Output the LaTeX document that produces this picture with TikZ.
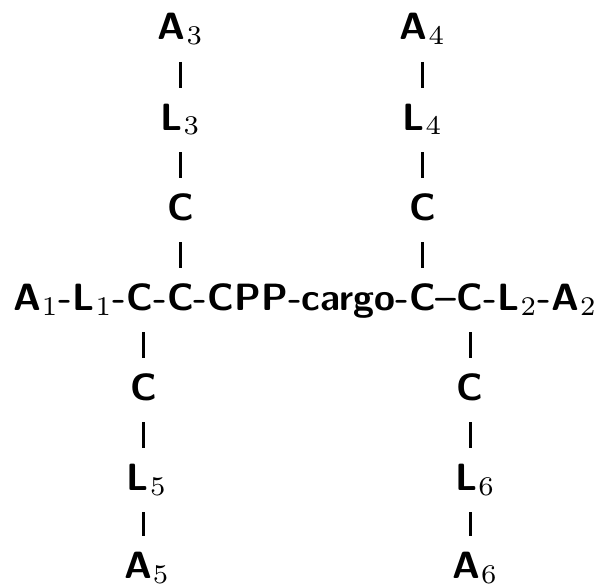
\documentclass[tikz,border=0pt]{standalone}
% index digits: upright roman at the 7pt design size, scaled up and lowered
\font\idxfont="[lmroman7-regular.otf]" at 27pt
\newcommand\idx[1]{\kern1pt\raisebox{-5pt}{\idxfont #1}\kern1.5pt}
\begin{document}
\begin{tikzpicture}[x=1pt, y=1pt,
  txt/.style={inner sep=0pt, outer sep=0pt,
    font=\fontsize{38}{45}\selectfont\sffamily\bfseries},
  piece/.style={txt, anchor=base west},
  col/.style={txt, anchor=base},
  bar/.style={line width=3pt, shorten <=22pt, shorten >=42pt}]
\useasboundingbox (0,0) rectangle (595,-586);

% baselines of the rows
\coordinate (r1) at (0,-40);
\coordinate (r2) at (0,-130);
\coordinate (r3) at (0,-220);
\coordinate (r4) at (0,-310);
\coordinate (r5) at (0,-400);
\coordinate (r6) at (0,-490);
\coordinate (r7) at (0,-578);

% main chain
\node[piece] (a1) at (13,-310) {A\idx{1}};
\node[piece] (h1) at (a1.base east) {-};
\node[piece] (l1) at (h1.base east) {L\idx{1}};
\node[piece] (h2) at (l1.base east) {-};
\node[piece] (c1) at (h2.base east) {C};
\node[piece] (h3) at (c1.base east) {-};
\node[piece] (c2) at (h3.base east) {C};
\node[piece] (h4) at (c2.base east) {-};
\node[piece] (cpp) at (h4.base east) {CPP};
\node[piece] (h5) at (cpp.base east) {-};
\node[piece] (cargo) at (h5.base east) {cargo};
\node[piece] (h6) at (cargo.base east) {-};
\node[piece] (c3) at (h6.base east) {C};
\node[piece] (h7) at (c3.base east) {--};
\node[piece] (c4) at (h7.base east) {C};
\node[piece] (h8) at (c4.base east) {-};
\node[piece] (l2) at (h8.base east) {L\idx{2}};
\node[piece] (h9) at (l2.base east) {-};
\node[piece] (a2) at (h9.base east) {A\idx{2}};

% upper left branch
\node[col] (a3) at (c2.base |- r1) {A\idx{3}};
\node[col] (l3) at (c2.base |- r2) {L\idx{3}};
\node[col] (cu1) at (c2.base |- r3) {C};
% upper right branch
\node[col] (a4) at (c3.base |- r1) {A\idx{4}};
\node[col] (l4) at (c3.base |- r2) {L\idx{4}};
\node[col] (cu2) at (c3.base |- r3) {C};
% lower left branch
\node[col] (cl1) at ([xshift=4pt]c1.base |- r5) {C};
\node[col] (l5) at ([xshift=7pt]c1.base |- r6) {L\idx{5}};
\node[col] (a5) at ([xshift=7pt]c1.base |- r7) {A\idx{5}};
% lower right branch
\node[col] (cl2) at (c4.base |- r5) {C};
\node[col] (l6) at ([xshift=5pt]c4.base |- r6) {L\idx{6}};
\node[col] (a6) at ([xshift=5pt]c4.base |- r7) {A\idx{6}};

% bonds
\draw[bar] (a3.base) -- (a3.base |- l3.base);
\draw[bar] (l3.base) -- (l3.base |- cu1.base);
\draw[bar] (cu1.base) -- (cu1.base |- c2.base);
\draw[bar] (a4.base) -- (a4.base |- l4.base);
\draw[bar] (l4.base) -- (l4.base |- cu2.base);
\draw[bar] (cu2.base) -- (cu2.base |- c3.base);
\draw[bar] (cl1.base |- c1.base) -- (cl1.base);
\draw[bar] (cl1.base) -- (cl1.base |- l5.base);
\draw[bar] (cl1.base |- l5.base) -- (cl1.base |- a5.base);
\draw[bar] (cl2.base |- c4.base) -- (cl2.base);
\draw[bar] (cl2.base) -- (cl2.base |- l6.base);
\draw[bar] (cl2.base |- l6.base) -- (cl2.base |- a6.base);
\end{tikzpicture}
\end{document}
